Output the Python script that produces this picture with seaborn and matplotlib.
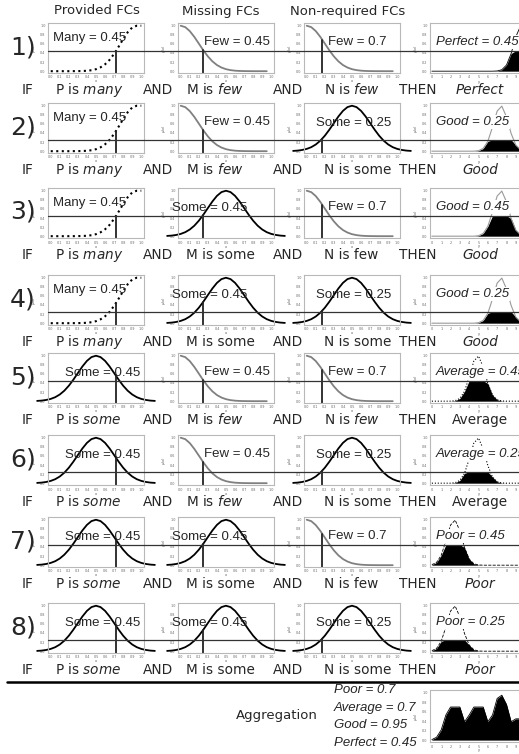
import numpy as np
import matplotlib
matplotlib.use("Agg")
import matplotlib.pyplot as plt
import matplotlib.transforms as mtransforms
from matplotlib.lines import Line2D
import seaborn as sns

sns.set_style("white")
plt.rcParams['font.family'] = ['DejaVu Sans']
NARROW = ['Liberation Sans Narrow', 'Liberation Sans', 'DejaVu Sans']

# ---- membership curves ----
x_many = [0.0, 0.05, 0.1, 0.15, 0.2, 0.25, 0.3, 0.35, 0.4, 0.45, 0.5,
          0.55, 0.6, 0.65, 0.7, 0.75, 0.8, 0.85, 0.9, 0.95, 1.0]
y_many = [0, 0, 0, 0, 0, 0.001, 0.002, 0.004, 0.009, 0.021, 0.044,
          0.085, 0.151, 0.249, 0.381, 0.539, 0.707, 0.857, 0.962, 1.0, 1.0]
x_few = [0.0, 0.05, 0.1, 0.15, 0.2, 0.25, 0.3, 0.35, 0.4, 0.45, 0.5,
         0.55, 0.6, 0.65, 0.7, 0.75, 0.8, 0.85, 0.9, 0.95]
y_few = [1.0, 0.969, 0.882, 0.755, 0.607, 0.458, 0.325, 0.216, 0.135, 0.080, 0.044,
         0.023, 0.011, 0.005, 0.002, 0.001, 0, 0, 0, 0]
x_some = [-0.15, -0.1, -0.05, 0.0, 0.05, 0.1, 0.15, 0.2, 0.25, 0.3, 0.35, 0.4, 0.45, 0.5,
          0.55, 0.6, 0.65, 0.7, 0.75, 0.8, 0.85, 0.9, 0.95, 1.0, 1.05, 1.1, 1.15]
y_some = [0.006, 0.013, 0.027, 0.050, 0.088, 0.147, 0.230, 0.340, 0.473, 0.619, 0.764, 0.887, 0.970, 1.0,
          0.970, 0.887, 0.764, 0.619, 0.473, 0.340, 0.230, 0.147, 0.088, 0.050, 0.027, 0.013, 0.006]

# ---- output sets (x = 0 .. 10) ----
x_out = [0.0, 0.5, 1.0, 1.5, 2.0, 2.5, 3.0, 3.5, 4.0, 4.5, 5.0,
         5.5, 6.0, 6.5, 7.0, 7.5, 8.0, 8.5, 9.0, 9.5, 10.0]
y_poor = [0.011, 0.060, 0.216, 0.531, 0.882, 0.992, 0.755, 0.389, 0.135, 0.032, 0.005,
          0, 0, 0, 0, 0, 0, 0, 0, 0, 0]
y_average = [0, 0, 0, 0, 0.001, 0.011, 0.060, 0.216, 0.531, 0.882, 0.992,
             0.755, 0.389, 0.135, 0.032, 0.005, 0, 0, 0, 0, 0]
y_good = [0, 0, 0, 0, 0, 0, 0, 0, 0, 0, 0.011,
          0.060, 0.216, 0.531, 0.882, 0.992, 0.755, 0.389, 0.135, 0.032, 0.005]
y_perfect = [0, 0, 0, 0, 0, 0, 0, 0, 0, 0, 0,
             0, 0, 0, 0.005, 0.032, 0.135, 0.389, 0.755, 0.992, 0.882]

# ---- rules ----
p_in, m_in, n_in = 0.72, 0.25, 0.17
rule_p = ['many', 'many', 'many', 'many', 'some', 'some', 'some', 'some']
rule_m = ['few', 'few', 'some', 'some', 'few', 'few', 'some', 'some']
rule_n = ['few', 'some', 'few', 'some', 'few', 'some', 'few', 'some']
rule_out = ['Perfect', 'Good', 'Good', 'Good', 'Average', 'Average', 'Poor', 'Poor']
p_deg = [0.45, 0.45, 0.45, 0.45, 0.45, 0.45, 0.45, 0.45]
m_deg = [0.45, 0.45, 0.45, 0.45, 0.45, 0.45, 0.45, 0.45]
n_deg = [0.7, 0.25, 0.7, 0.25, 0.7, 0.25, 0.7, 0.25]
strength = [0.45, 0.25, 0.45, 0.25, 0.45, 0.25, 0.45, 0.25]
m_italic = [True, True, False, False, True, True, False, False]
n_italic = [True, False, False, False, True, False, False, False]
out_italic = [True, True, True, True, False, False, True, True]

agg_names = ['Poor', 'Average', 'Good', 'Perfect']
agg_levels = [0.7, 0.7, 0.95, 0.45]

in_shapes = {'many': (x_many, y_many), 'few': (x_few, y_few), 'some': (x_some, y_some)}
out_shapes = {'Poor': y_poor, 'Average': y_average, 'Good': y_good, 'Perfect': y_perfect}
in_style = {'many': dict(color='black', linestyle=':', lw=1.5),
            'few': dict(color='#808080', linestyle='-', lw=1.3),
            'some': dict(color='black', linestyle='-', lw=1.3)}
out_style = {'Perfect': dict(color='black', linestyle='-', lw=0.6),
             'Good': dict(color='#9a9a9a', linestyle='-', lw=0.8),
             'Average': dict(color='black', linestyle=':', lw=0.8),
             'Poor': dict(color='black', linestyle='--', lw=0.6)}

# ---- layout in pixels ----
W, H = 519, 754
row_top = [23, 103, 188, 275, 353, 435, 517, 603]
col_left = [48, 178, 304, 430]
PW, PH = 96, 50

fig = plt.figure(figsize=(W / 100, H / 100), dpi=100)


def px_axes(left, top, width, height):
    return fig.add_axes([left / W, 1 - (top + height) / H, width / W, height / H])


def ftext(x, y, s, **kw):
    fig.text(x / W, 1 - y / H, s, **kw)


def style_panel(ax, xlim, xticks, xlabels):
    ax.set_xlim(*xlim)
    ax.set_ylim(-0.04, 1.06)
    ax.set_xticks(xticks)
    ax.set_xticklabels(xlabels)
    ax.set_yticks([0, 0.2, 0.4, 0.6, 0.8, 1.0])
    ax.set_yticklabels(['0.0', '0.2', '0.4', '0.6', '0.8', '1.0'])
    ax.tick_params(labelsize=2.4, length=1.0, width=0.4, pad=0.8, colors='#666666')
    for s in ax.spines.values():
        s.set_color('#b8b8b8')
        s.set_linewidth(0.8)
    ax.set_ylabel(r'$\mu(x)$', fontsize=2.6, labelpad=1.5, color='#555555')
    ax.set_xlabel('x' if xlim[1] < 2 else 'y', fontsize=2.6, labelpad=0, color='#555555')


in_ticks = [0, 0.1, 0.2, 0.3, 0.4, 0.5, 0.6, 0.7, 0.8, 0.9, 1.0]
in_labels = ['0.0', '0.1', '0.2', '0.3', '0.4', '0.5', '0.6', '0.7', '0.8', '0.9', '1.0']
out_ticks = [0, 1, 2, 3, 4, 5, 6, 7, 8, 9, 10]
out_labels = [str(t) for t in out_ticks]

# text placement of the degree label per column (axes fraction)
label_pos = {('many', 0): (0.05, 0.70, 'left'), ('some', 0): (0.57, 0.60, 'center'),
             ('few', 1): (0.27, 0.62, 'left'), ('some', 1): (0.33, 0.60, 'center'),
             ('few', 2): (0.25, 0.62, 'left'), ('some', 2): (0.52, 0.60, 'center')}


def draw_input(ax, shape, xin, deg, col):
    xs, ys = in_shapes[shape]
    sns.lineplot(x=xs, y=ys, ax=ax, clip_on=(shape != 'some'), **in_style[shape])
    ax.plot([xin, xin], [-0.04, np.interp(xin, xs, ys)], color='#222222', lw=1.3)
    style_panel(ax, (-0.03, 1.03), in_ticks, in_labels)
    fx, fy, ha = label_pos[(shape, col)]
    ax.text(fx, fy, f'{shape.capitalize()} = {deg}', transform=ax.transAxes, ha=ha,
            va='center', fontsize=9.5, family=NARROW)


def draw_output(ax, name, level):
    ys = np.array(out_shapes[name])
    ax.fill_between(x_out, 0, np.minimum(ys, level), color='black', lw=0)
    sns.lineplot(x=x_out, y=ys, ax=ax, **out_style[name])
    style_panel(ax, (-0.2, 10.2), out_ticks, out_labels)
    ax.text(0.06, 0.62, f'{name} = {level}', transform=ax.transAxes, ha='left', va='center',
            fontsize=9.5, family=NARROW, style='italic',
            bbox=dict(facecolor='white', edgecolor='none', pad=0.5))


# headers
ftext(97, 11, 'Provided FCs', ha='center', va='center', fontsize=9.5)
ftext(221, 11, 'Missing FCs', ha='center', va='center', fontsize=9.5)
ftext(348, 11, 'Non-required FCs', ha='center', va='center', fontsize=9.5)

FS = 9.8
for i in range(8):
    top = row_top[i]
    axes = [px_axes(col_left[c], top, PW, PH) for c in range(3)]
    axes.append(px_axes(col_left[3], top, 97, PH))
    draw_input(axes[0], rule_p[i], p_in, p_deg[i], 0)
    draw_input(axes[1], rule_m[i], m_in, m_deg[i], 1)
    draw_input(axes[2], rule_n[i], n_in, n_deg[i], 2)
    draw_output(axes[3], rule_out[i], strength[i])

    # firing level line across the row
    tr = mtransforms.blended_transform_factory(fig.transFigure, axes[0].transData)
    fig.add_artist(Line2D([col_left[0] / W, 1.0], [strength[i]] * 2, transform=tr,
                          color='#333333', lw=0.9))

    ftext(23, top + 24, f'{i + 1})', ha='center', va='center', fontsize=18)
    ty = top + 67
    ftext(28, ty, 'IF', ha='center', va='center', fontsize=FS)
    ftext(55, ty, f'P is $\\mathit{{{rule_p[i]}}}$', ha='left', va='center', fontsize=FS)
    ftext(158, ty, 'AND', ha='center', va='center', fontsize=FS)
    mw = f'$\\mathit{{{rule_m[i]}}}$' if m_italic[i] else rule_m[i]
    ftext(186, ty, f'M is {mw}', ha='left', va='center', fontsize=FS)
    ftext(288, ty, 'AND', ha='center', va='center', fontsize=FS)
    nw = f'$\\mathit{{{rule_n[i]}}}$' if n_italic[i] else rule_n[i]
    ftext(324, ty, f'N is {nw}', ha='left', va='center', fontsize=FS)
    ftext(418, ty, 'THEN', ha='center', va='center', fontsize=FS)
    ftext(480, ty, rule_out[i], ha='center', va='center', fontsize=FS,
          style='italic' if out_italic[i] else 'normal')

# separator
fig.add_artist(Line2D([7 / W, 1.0], [1 - 682 / H] * 2, transform=fig.transFigure,
                      color='black', lw=1.8))

# aggregation
ftext(277, 715, 'Aggregation', ha='center', va='center', fontsize=9.5)
for k, (nm, lv) in enumerate(zip(agg_names, agg_levels)):
    ftext(334, 690 + 17.7 * k, f'{nm} = {lv}', ha='left', va='center', fontsize=9.5,
          family=NARROW, style='italic')

ax_agg = px_axes(430, 690, 97, 52)
agg = np.max([np.minimum(out_shapes[nm], lv) for nm, lv in zip(agg_names, agg_levels)], axis=0)
ax_agg.fill_between(x_out, 0, agg, color='black', lw=0)
sns.lineplot(x=x_out, y=agg, ax=ax_agg, color='black', lw=0.6)
style_panel(ax_agg, (-0.2, 10.2), out_ticks, out_labels)

fig.savefig('out.png', dpi=100)
